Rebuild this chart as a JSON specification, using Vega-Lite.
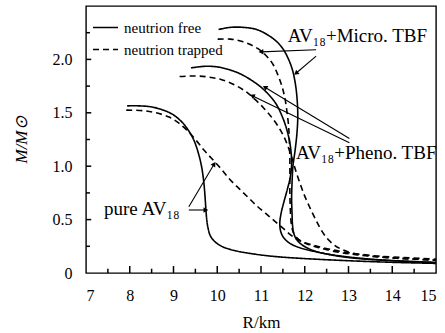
{
  "$schema": "https://vega.github.io/schema/vega-lite/v6.json",
  "width": 350,
  "height": 267,
  "autosize": {"type": "none"},
  "padding": {"left": 86, "top": 6, "right": 9, "bottom": 60},
  "config": {
    "font": "Liberation Serif",
    "view": {"stroke": "black", "strokeWidth": 1.4},
    "axis": {
      "labelFont": "Liberation Serif", "titleFont": "Liberation Serif",
      "labelFontSize": 16, "titleFontSize": 17, "titleFontWeight": "normal",
      "labelColor": "black", "titleColor": "black",
      "domain": false, "grid": false, "ticks": false
    },
    "legend": {
      "labelFont": "Liberation Serif", "labelFontSize": 15, "labelColor": "black"
    }
  },
  "datasets": {
    "curves": [
      {"s": "pure", "t": "neutrion free", "i": 0, "r": 7.94, "m": 1.565},
      {"s": "pure", "t": "neutrion free", "i": 1, "r": 8.2, "m": 1.565},
      {"s": "pure", "t": "neutrion free", "i": 2, "r": 8.5, "m": 1.555},
      {"s": "pure", "t": "neutrion free", "i": 3, "r": 8.8, "m": 1.52},
      {"s": "pure", "t": "neutrion free", "i": 4, "r": 9.0, "m": 1.48},
      {"s": "pure", "t": "neutrion free", "i": 5, "r": 9.2, "m": 1.41},
      {"s": "pure", "t": "neutrion free", "i": 6, "r": 9.35, "m": 1.33},
      {"s": "pure", "t": "neutrion free", "i": 7, "r": 9.47, "m": 1.24},
      {"s": "pure", "t": "neutrion free", "i": 8, "r": 9.57, "m": 1.12},
      {"s": "pure", "t": "neutrion free", "i": 9, "r": 9.64, "m": 1.0},
      {"s": "pure", "t": "neutrion free", "i": 10, "r": 9.69, "m": 0.86},
      {"s": "pure", "t": "neutrion free", "i": 11, "r": 9.72, "m": 0.72},
      {"s": "pure", "t": "neutrion free", "i": 12, "r": 9.74, "m": 0.6},
      {"s": "pure", "t": "neutrion free", "i": 13, "r": 9.76, "m": 0.5},
      {"s": "pure", "t": "neutrion free", "i": 14, "r": 9.79, "m": 0.42},
      {"s": "pure", "t": "neutrion free", "i": 15, "r": 9.84, "m": 0.35},
      {"s": "pure", "t": "neutrion free", "i": 16, "r": 9.93, "m": 0.3},
      {"s": "pure", "t": "neutrion free", "i": 17, "r": 10.1, "m": 0.25},
      {"s": "pure", "t": "neutrion free", "i": 18, "r": 10.4, "m": 0.21},
      {"s": "pure", "t": "neutrion free", "i": 19, "r": 10.8, "m": 0.18},
      {"s": "pure", "t": "neutrion free", "i": 20, "r": 11.3, "m": 0.155},
      {"s": "pure", "t": "neutrion free", "i": 21, "r": 12.0, "m": 0.135},
      {"s": "pure", "t": "neutrion free", "i": 22, "r": 13.0, "m": 0.115},
      {"s": "pure", "t": "neutrion free", "i": 23, "r": 14.0, "m": 0.1},
      {"s": "pure", "t": "neutrion free", "i": 24, "r": 15.0, "m": 0.09},

      {"s": "pureT", "t": "neutrion trapped", "i": 0, "r": 7.92, "m": 1.525},
      {"s": "pureT", "t": "neutrion trapped", "i": 1, "r": 8.3, "m": 1.52},
      {"s": "pureT", "t": "neutrion trapped", "i": 2, "r": 8.6, "m": 1.5},
      {"s": "pureT", "t": "neutrion trapped", "i": 3, "r": 8.9, "m": 1.46},
      {"s": "pureT", "t": "neutrion trapped", "i": 4, "r": 9.1, "m": 1.41},
      {"s": "pureT", "t": "neutrion trapped", "i": 5, "r": 9.3, "m": 1.34},
      {"s": "pureT", "t": "neutrion trapped", "i": 6, "r": 9.5, "m": 1.25},
      {"s": "pureT", "t": "neutrion trapped", "i": 7, "r": 9.7, "m": 1.15},
      {"s": "pureT", "t": "neutrion trapped", "i": 8, "r": 9.9, "m": 1.06},
      {"s": "pureT", "t": "neutrion trapped", "i": 9, "r": 10.1, "m": 0.97},
      {"s": "pureT", "t": "neutrion trapped", "i": 10, "r": 10.3, "m": 0.87},
      {"s": "pureT", "t": "neutrion trapped", "i": 11, "r": 10.5, "m": 0.79},
      {"s": "pureT", "t": "neutrion trapped", "i": 12, "r": 10.7, "m": 0.71},
      {"s": "pureT", "t": "neutrion trapped", "i": 13, "r": 10.9, "m": 0.63},
      {"s": "pureT", "t": "neutrion trapped", "i": 14, "r": 11.1, "m": 0.56},
      {"s": "pureT", "t": "neutrion trapped", "i": 15, "r": 11.3, "m": 0.49},
      {"s": "pureT", "t": "neutrion trapped", "i": 16, "r": 11.5, "m": 0.42},
      {"s": "pureT", "t": "neutrion trapped", "i": 17, "r": 11.7, "m": 0.35},
      {"s": "pureT", "t": "neutrion trapped", "i": 18, "r": 11.9, "m": 0.3},
      {"s": "pureT", "t": "neutrion trapped", "i": 19, "r": 12.2, "m": 0.26},
      {"s": "pureT", "t": "neutrion trapped", "i": 20, "r": 12.6, "m": 0.22},
      {"s": "pureT", "t": "neutrion trapped", "i": 21, "r": 13.0, "m": 0.19},
      {"s": "pureT", "t": "neutrion trapped", "i": 22, "r": 13.5, "m": 0.165},
      {"s": "pureT", "t": "neutrion trapped", "i": 23, "r": 14.0, "m": 0.15},
      {"s": "pureT", "t": "neutrion trapped", "i": 24, "r": 15.0, "m": 0.13},

      {"s": "micro", "t": "neutrion free", "i": 0, "r": 10.03, "m": 2.28},
      {"s": "micro", "t": "neutrion free", "i": 1, "r": 10.3, "m": 2.3},
      {"s": "micro", "t": "neutrion free", "i": 2, "r": 10.6, "m": 2.3},
      {"s": "micro", "t": "neutrion free", "i": 3, "r": 10.9, "m": 2.28},
      {"s": "micro", "t": "neutrion free", "i": 4, "r": 11.15, "m": 2.23},
      {"s": "micro", "t": "neutrion free", "i": 5, "r": 11.35, "m": 2.17},
      {"s": "micro", "t": "neutrion free", "i": 6, "r": 11.5, "m": 2.1},
      {"s": "micro", "t": "neutrion free", "i": 7, "r": 11.62, "m": 2.01},
      {"s": "micro", "t": "neutrion free", "i": 8, "r": 11.72, "m": 1.9},
      {"s": "micro", "t": "neutrion free", "i": 9, "r": 11.79, "m": 1.76},
      {"s": "micro", "t": "neutrion free", "i": 10, "r": 11.83, "m": 1.6},
      {"s": "micro", "t": "neutrion free", "i": 11, "r": 11.84, "m": 1.45},
      {"s": "micro", "t": "neutrion free", "i": 12, "r": 11.82, "m": 1.3},
      {"s": "micro", "t": "neutrion free", "i": 13, "r": 11.78, "m": 1.15},
      {"s": "micro", "t": "neutrion free", "i": 14, "r": 11.73, "m": 1.0},
      {"s": "micro", "t": "neutrion free", "i": 15, "r": 11.71, "m": 0.85},
      {"s": "micro", "t": "neutrion free", "i": 16, "r": 11.7, "m": 0.7},
      {"s": "micro", "t": "neutrion free", "i": 17, "r": 11.71, "m": 0.55},
      {"s": "micro", "t": "neutrion free", "i": 18, "r": 11.72, "m": 0.45},
      {"s": "micro", "t": "neutrion free", "i": 19, "r": 11.75, "m": 0.37},
      {"s": "micro", "t": "neutrion free", "i": 20, "r": 11.82, "m": 0.31},
      {"s": "micro", "t": "neutrion free", "i": 21, "r": 11.95, "m": 0.26},
      {"s": "micro", "t": "neutrion free", "i": 22, "r": 12.2, "m": 0.21},
      {"s": "micro", "t": "neutrion free", "i": 23, "r": 12.6, "m": 0.17},
      {"s": "micro", "t": "neutrion free", "i": 24, "r": 13.1, "m": 0.14},
      {"s": "micro", "t": "neutrion free", "i": 25, "r": 14.0, "m": 0.115},
      {"s": "micro", "t": "neutrion free", "i": 26, "r": 15.0, "m": 0.1},

      {"s": "microT", "t": "neutrion trapped", "i": 0, "r": 10.01, "m": 2.19},
      {"s": "microT", "t": "neutrion trapped", "i": 1, "r": 10.3, "m": 2.19},
      {"s": "microT", "t": "neutrion trapped", "i": 2, "r": 10.55, "m": 2.17},
      {"s": "microT", "t": "neutrion trapped", "i": 3, "r": 10.8, "m": 2.13},
      {"s": "microT", "t": "neutrion trapped", "i": 4, "r": 11.0, "m": 2.08},
      {"s": "microT", "t": "neutrion trapped", "i": 5, "r": 11.15, "m": 2.02},
      {"s": "microT", "t": "neutrion trapped", "i": 6, "r": 11.28, "m": 1.95},
      {"s": "microT", "t": "neutrion trapped", "i": 7, "r": 11.38, "m": 1.86},
      {"s": "microT", "t": "neutrion trapped", "i": 8, "r": 11.47, "m": 1.76},
      {"s": "microT", "t": "neutrion trapped", "i": 9, "r": 11.54, "m": 1.65},
      {"s": "microT", "t": "neutrion trapped", "i": 10, "r": 11.59, "m": 1.52},
      {"s": "microT", "t": "neutrion trapped", "i": 11, "r": 11.63, "m": 1.38},
      {"s": "microT", "t": "neutrion trapped", "i": 12, "r": 11.65, "m": 1.22},
      {"s": "microT", "t": "neutrion trapped", "i": 13, "r": 11.66, "m": 1.05},
      {"s": "microT", "t": "neutrion trapped", "i": 14, "r": 11.66, "m": 0.9},
      {"s": "microT", "t": "neutrion trapped", "i": 15, "r": 11.66, "m": 0.75},
      {"s": "microT", "t": "neutrion trapped", "i": 16, "r": 11.67, "m": 0.6},
      {"s": "microT", "t": "neutrion trapped", "i": 17, "r": 11.69, "m": 0.47},
      {"s": "microT", "t": "neutrion trapped", "i": 18, "r": 11.73, "m": 0.39},
      {"s": "microT", "t": "neutrion trapped", "i": 19, "r": 11.82, "m": 0.33},
      {"s": "microT", "t": "neutrion trapped", "i": 20, "r": 12.0, "m": 0.28},
      {"s": "microT", "t": "neutrion trapped", "i": 21, "r": 12.3, "m": 0.24},
      {"s": "microT", "t": "neutrion trapped", "i": 22, "r": 12.7, "m": 0.2},
      {"s": "microT", "t": "neutrion trapped", "i": 23, "r": 13.2, "m": 0.17},
      {"s": "microT", "t": "neutrion trapped", "i": 24, "r": 14.0, "m": 0.14},
      {"s": "microT", "t": "neutrion trapped", "i": 25, "r": 15.0, "m": 0.12},

      {"s": "pheno", "t": "neutrion free", "i": 0, "r": 9.4, "m": 1.92},
      {"s": "pheno", "t": "neutrion free", "i": 1, "r": 9.7, "m": 1.935},
      {"s": "pheno", "t": "neutrion free", "i": 2, "r": 10.0, "m": 1.93},
      {"s": "pheno", "t": "neutrion free", "i": 3, "r": 10.3, "m": 1.9},
      {"s": "pheno", "t": "neutrion free", "i": 4, "r": 10.55, "m": 1.86},
      {"s": "pheno", "t": "neutrion free", "i": 5, "r": 10.8, "m": 1.8},
      {"s": "pheno", "t": "neutrion free", "i": 6, "r": 11.0, "m": 1.74},
      {"s": "pheno", "t": "neutrion free", "i": 7, "r": 11.2, "m": 1.66},
      {"s": "pheno", "t": "neutrion free", "i": 8, "r": 11.35, "m": 1.58},
      {"s": "pheno", "t": "neutrion free", "i": 9, "r": 11.47, "m": 1.48},
      {"s": "pheno", "t": "neutrion free", "i": 10, "r": 11.57, "m": 1.37},
      {"s": "pheno", "t": "neutrion free", "i": 11, "r": 11.65, "m": 1.24},
      {"s": "pheno", "t": "neutrion free", "i": 12, "r": 11.69, "m": 1.12},
      {"s": "pheno", "t": "neutrion free", "i": 13, "r": 11.7, "m": 1.02},
      {"s": "pheno", "t": "neutrion free", "i": 14, "r": 11.67, "m": 0.9},
      {"s": "pheno", "t": "neutrion free", "i": 15, "r": 11.6, "m": 0.78},
      {"s": "pheno", "t": "neutrion free", "i": 16, "r": 11.52, "m": 0.66},
      {"s": "pheno", "t": "neutrion free", "i": 17, "r": 11.46, "m": 0.56},
      {"s": "pheno", "t": "neutrion free", "i": 18, "r": 11.43, "m": 0.47},
      {"s": "pheno", "t": "neutrion free", "i": 19, "r": 11.45, "m": 0.39},
      {"s": "pheno", "t": "neutrion free", "i": 20, "r": 11.52, "m": 0.33},
      {"s": "pheno", "t": "neutrion free", "i": 21, "r": 11.65, "m": 0.28},
      {"s": "pheno", "t": "neutrion free", "i": 22, "r": 11.9, "m": 0.235},
      {"s": "pheno", "t": "neutrion free", "i": 23, "r": 12.3, "m": 0.195},
      {"s": "pheno", "t": "neutrion free", "i": 24, "r": 12.8, "m": 0.16},
      {"s": "pheno", "t": "neutrion free", "i": 25, "r": 13.5, "m": 0.13},
      {"s": "pheno", "t": "neutrion free", "i": 26, "r": 14.3, "m": 0.11},
      {"s": "pheno", "t": "neutrion free", "i": 27, "r": 15.0, "m": 0.095},

      {"s": "phenoT", "t": "neutrion trapped", "i": 0, "r": 9.14, "m": 1.84},
      {"s": "phenoT", "t": "neutrion trapped", "i": 1, "r": 9.5, "m": 1.845},
      {"s": "phenoT", "t": "neutrion trapped", "i": 2, "r": 9.8, "m": 1.835},
      {"s": "phenoT", "t": "neutrion trapped", "i": 3, "r": 10.1, "m": 1.81},
      {"s": "phenoT", "t": "neutrion trapped", "i": 4, "r": 10.4, "m": 1.76},
      {"s": "phenoT", "t": "neutrion trapped", "i": 5, "r": 10.65, "m": 1.7},
      {"s": "phenoT", "t": "neutrion trapped", "i": 6, "r": 10.85, "m": 1.63},
      {"s": "phenoT", "t": "neutrion trapped", "i": 7, "r": 11.05, "m": 1.55},
      {"s": "phenoT", "t": "neutrion trapped", "i": 8, "r": 11.22, "m": 1.47},
      {"s": "phenoT", "t": "neutrion trapped", "i": 9, "r": 11.38, "m": 1.38},
      {"s": "phenoT", "t": "neutrion trapped", "i": 10, "r": 11.52, "m": 1.28},
      {"s": "phenoT", "t": "neutrion trapped", "i": 11, "r": 11.63, "m": 1.17},
      {"s": "phenoT", "t": "neutrion trapped", "i": 12, "r": 11.72, "m": 1.06},
      {"s": "phenoT", "t": "neutrion trapped", "i": 13, "r": 11.8, "m": 0.95},
      {"s": "phenoT", "t": "neutrion trapped", "i": 14, "r": 11.9, "m": 0.83},
      {"s": "phenoT", "t": "neutrion trapped", "i": 15, "r": 12.0, "m": 0.72},
      {"s": "phenoT", "t": "neutrion trapped", "i": 16, "r": 12.12, "m": 0.61},
      {"s": "phenoT", "t": "neutrion trapped", "i": 17, "r": 12.25, "m": 0.5},
      {"s": "phenoT", "t": "neutrion trapped", "i": 18, "r": 12.38, "m": 0.4},
      {"s": "phenoT", "t": "neutrion trapped", "i": 19, "r": 12.52, "m": 0.32},
      {"s": "phenoT", "t": "neutrion trapped", "i": 20, "r": 12.68, "m": 0.26},
      {"s": "phenoT", "t": "neutrion trapped", "i": 21, "r": 12.85, "m": 0.22},
      {"s": "phenoT", "t": "neutrion trapped", "i": 22, "r": 13.1, "m": 0.185},
      {"s": "phenoT", "t": "neutrion trapped", "i": 23, "r": 13.6, "m": 0.155},
      {"s": "phenoT", "t": "neutrion trapped", "i": 24, "r": 14.3, "m": 0.135},
      {"s": "phenoT", "t": "neutrion trapped", "i": 25, "r": 15.0, "m": 0.12}
    ],
    "labels": [
      {"label": "AV₁₈+Micro. TBF", "r": 11.61, "m": 2.16},
      {"label": "AV₁₈+Pheno. TBF", "r": 11.8, "m": 1.07},
      {"label": "pure AV₁₈", "r": 7.41, "m": 0.54}
    ],
    "arrows": [
      {"a": "A", "r": 12.26, "m": 2.09, "r2": 11.0, "m2": 2.07},
      {"a": "B", "r": 12.26, "m": 2.03, "r2": 11.8, "m2": 1.87},
      {"a": "C", "r": 13.02, "m": 1.26, "r2": 11.09, "m2": 1.74},
      {"a": "D", "r": 13.02, "m": 1.22, "r2": 10.8, "m2": 1.66},
      {"a": "E", "r": 9.35, "m": 0.62, "r2": 9.93, "m2": 1.02},
      {"a": "F", "r": 9.35, "m": 0.59, "r2": 9.74, "m2": 0.59}
    ],
    "xticks": [
      {"v": 8, "k": "major"}, {"v": 9, "k": "major"}, {"v": 10, "k": "major"}, {"v": 11, "k": "major"},
      {"v": 12, "k": "major"}, {"v": 13, "k": "major"}, {"v": 14, "k": "major"},
      {"v": 7.5, "k": "minor"}, {"v": 8.5, "k": "minor"}, {"v": 9.5, "k": "minor"}, {"v": 10.5, "k": "minor"},
      {"v": 11.5, "k": "minor"}, {"v": 12.5, "k": "minor"}, {"v": 13.5, "k": "minor"}, {"v": 14.5, "k": "minor"}
    ],
    "yticks": [
      {"v": 0.5, "k": "major"}, {"v": 1.0, "k": "major"}, {"v": 1.5, "k": "major"}, {"v": 2.0, "k": "major"},
      {"v": 0.25, "k": "minor"}, {"v": 0.75, "k": "minor"}, {"v": 1.25, "k": "minor"}, {"v": 1.75, "k": "minor"}, {"v": 2.25, "k": "minor"}
    ]
  },
  "layer": [
    {
      "data": {"name": "curves"},
      "mark": {"type": "line", "color": "black", "strokeWidth": 1.6, "interpolate": "catmull-rom"},
      "encoding": {
        "x": {"field": "r", "type": "quantitative", "scale": {"domain": [7, 15], "nice": false},
          "axis": {"orient": "bottom", "values": [7, 8, 9, 10, 11, 12, 13, 14, 15], "labelFont": "Liberation Serif", "titleFont": "Liberation Serif", "labelPadding": 14, "title": "R/km", "titlePadding": 11}},
        "y": {"field": "m", "type": "quantitative", "scale": {"domain": [0, 2.5], "nice": false},
          "axis": {"orient": "left", "values": [0, 0.5, 1, 1.5, 2], "labelFont": "Liberation Serif", "titleFont": "Liberation Serif", "labelPadding": 14, "labelExpr": "datum.value == 0 ? '0' : format(datum.value, '.1f')", "title": "M/M⊙", "titleFontStyle": "italic", "titlePadding": 22}},
        "strokeDash": {"field": "t", "type": "nominal",
          "scale": {"domain": ["neutrion free", "neutrion trapped"], "range": [[1, 0], [6, 4]]},
          "legend": {"title": null, "orient": "none", "legendX": 6, "legendY": 8, "symbolType": "stroke", "symbolSize": 625, "symbolStrokeWidth": 1.6, "symbolStrokeColor": "black", "labelOffset": 5, "rowPadding": 0, "padding": 0}},
        "detail": {"field": "s"},
        "order": {"field": "i", "type": "quantitative"}
      }
    },
    {
      "data": {"name": "xticks"},
      "transform": [{"filter": "datum.k == 'major'"}],
      "mark": {"type": "rule", "color": "black", "strokeWidth": 1.5},
      "encoding": {"x": {"field": "v", "type": "quantitative"}, "y": {"datum": 0}, "y2": {"datum": 0.065}}
    },
    {
      "data": {"name": "xticks"},
      "transform": [{"filter": "datum.k == 'minor'"}],
      "mark": {"type": "rule", "color": "black", "strokeWidth": 1.5},
      "encoding": {"x": {"field": "v", "type": "quantitative"}, "y": {"datum": 0}, "y2": {"datum": 0.04}}
    },
    {
      "data": {"name": "yticks"},
      "transform": [{"filter": "datum.k == 'major'"}],
      "mark": {"type": "rule", "color": "black", "strokeWidth": 1.5},
      "encoding": {"y": {"field": "v", "type": "quantitative"}, "x": {"datum": 7}, "x2": {"datum": 7.12}}
    },
    {
      "data": {"name": "yticks"},
      "transform": [{"filter": "datum.k == 'minor'"}],
      "mark": {"type": "rule", "color": "black", "strokeWidth": 1.5},
      "encoding": {"y": {"field": "v", "type": "quantitative"}, "x": {"datum": 7}, "x2": {"datum": 7.09}}
    },
    {
      "data": {"name": "arrows"},
      "mark": {"type": "rule", "color": "black", "strokeWidth": 1.1},
      "encoding": {
        "x": {"field": "r", "type": "quantitative"},
        "y": {"field": "m", "type": "quantitative"},
        "x2": {"field": "r2"},
        "y2": {"field": "m2"}
      }
    },
    {
      "data": {"name": "arrows"},
      "transform": [{"filter": "datum.a == 'A'"}],
      "mark": {"type": "point", "shape": "triangle-up", "filled": true, "color": "black", "size": 30, "angle": 268, "opacity": 1},
      "encoding": {"x": {"field": "r2", "type": "quantitative"}, "y": {"field": "m2", "type": "quantitative"}}
    },
    {
      "data": {"name": "arrows"},
      "transform": [{"filter": "datum.a == 'B'"}],
      "mark": {"type": "point", "shape": "triangle-up", "filled": true, "color": "black", "size": 30, "angle": 231, "opacity": 1},
      "encoding": {"x": {"field": "r2", "type": "quantitative"}, "y": {"field": "m2", "type": "quantitative"}}
    },
    {
      "data": {"name": "arrows"},
      "transform": [{"filter": "datum.a == 'C'"}],
      "mark": {"type": "point", "shape": "triangle-up", "filled": true, "color": "black", "size": 30, "angle": 302, "opacity": 1},
      "encoding": {"x": {"field": "r2", "type": "quantitative"}, "y": {"field": "m2", "type": "quantitative"}}
    },
    {
      "data": {"name": "arrows"},
      "transform": [{"filter": "datum.a == 'D'"}],
      "mark": {"type": "point", "shape": "triangle-up", "filled": true, "color": "black", "size": 30, "angle": 296, "opacity": 1},
      "encoding": {"x": {"field": "r2", "type": "quantitative"}, "y": {"field": "m2", "type": "quantitative"}}
    },
    {
      "data": {"name": "arrows"},
      "transform": [{"filter": "datum.a == 'E'"}],
      "mark": {"type": "point", "shape": "triangle-up", "filled": true, "color": "black", "size": 30, "angle": 33, "opacity": 1},
      "encoding": {"x": {"field": "r2", "type": "quantitative"}, "y": {"field": "m2", "type": "quantitative"}}
    },
    {
      "data": {"name": "arrows"},
      "transform": [{"filter": "datum.a == 'F'"}],
      "mark": {"type": "point", "shape": "triangle-up", "filled": true, "color": "black", "size": 30, "angle": 90, "opacity": 1},
      "encoding": {"x": {"field": "r2", "type": "quantitative"}, "y": {"field": "m2", "type": "quantitative"}}
    },
    {
      "data": {"name": "labels"},
      "mark": {"type": "text", "align": "left", "baseline": "alphabetic", "font": "Liberation Serif", "fontSize": 19, "color": "black"},
      "encoding": {
        "x": {"field": "r", "type": "quantitative"},
        "y": {"field": "m", "type": "quantitative"},
        "text": {"field": "label"}
      }
    }
  ]
}
